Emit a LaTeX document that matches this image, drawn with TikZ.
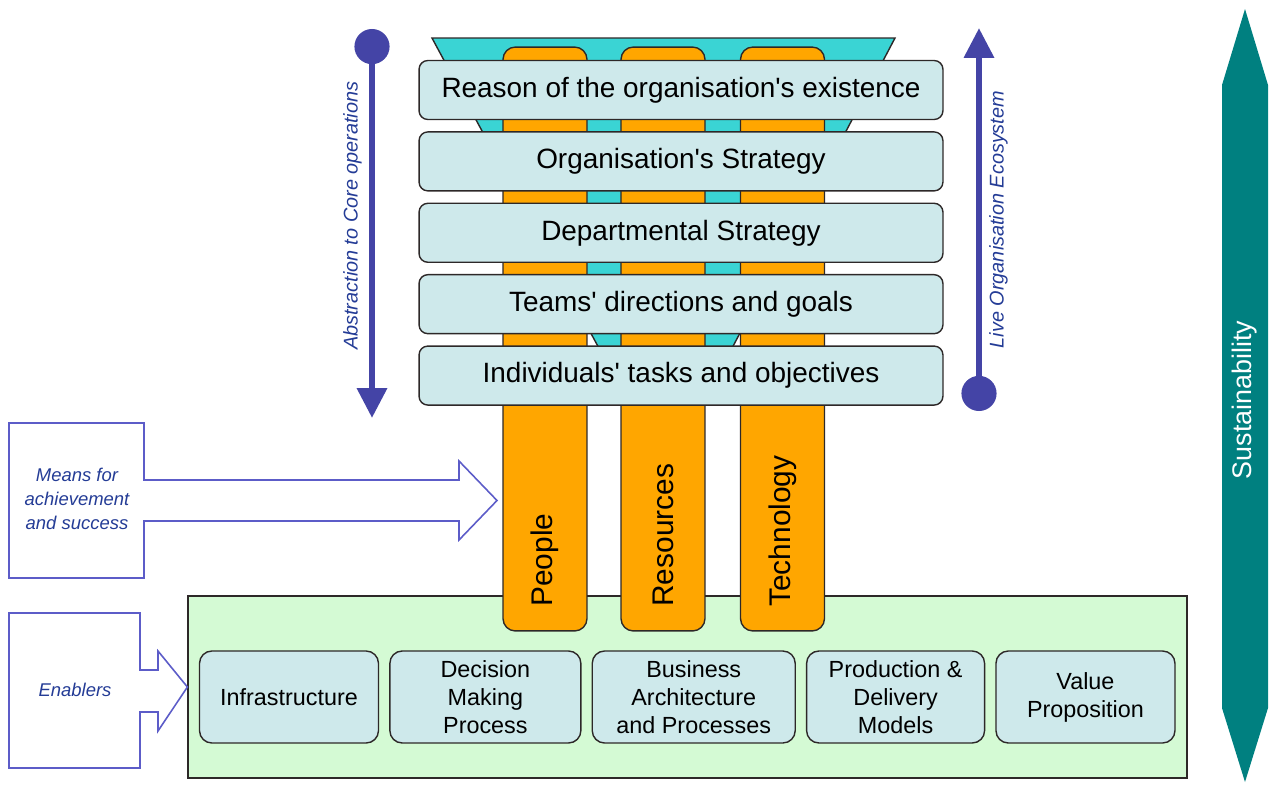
\documentclass[tikz,border=0pt]{standalone}
\usepackage{fontspec}
\setmainfont{Liberation Sans}
\usetikzlibrary{positioning,arrows.meta}

\definecolor{layerfill}{RGB}{206,233,235}
\definecolor{funnelcyan}{RGB}{58,212,212}
\definecolor{pillarorange}{RGB}{255,166,0}
\definecolor{basegreen}{RGB}{212,250,212}
\definecolor{sustteal}{RGB}{0,128,128}
\definecolor{flowblue}{RGB}{68,68,166}
\definecolor{calloutblue}{RGB}{92,92,200}
\definecolor{labelblue}{RGB}{36,60,150}
\definecolor{edgegray}{RGB}{45,40,40}

\tikzset{
  layer/.style={draw=edgegray, line width=0.8pt, fill=layerfill, rounded corners=5pt,
    minimum width=10.48cm, minimum height=1.18cm, inner sep=0pt,
    font=\fontsize{15.9}{19}\selectfont},
  enabler/.style={draw=edgegray, line width=0.8pt, fill=layerfill, rounded corners=7pt,
    minimum height=1.84cm, inner sep=0pt, align=center,
    font=\fontsize{13.3}{15.9}\selectfont},
  pillar/.style={draw=edgegray, line width=0.8pt, fill=pillarorange, rounded corners=7pt,
    minimum width=1.68cm, minimum height=11.68cm, inner sep=0pt},
  pillarlabel/.style={rotate=90, anchor=west, inner sep=0pt, font=\fontsize{17}{20}\selectfont},
  callout/.style={draw=calloutblue, line width=0.9pt, fill=white},
  calloutlabel/.style={align=center, text=labelblue, font=\fontsize{10.5}{13.6}\selectfont\itshape},
  flow/.style={draw=flowblue, line width=3.6pt,
    {Circle[length=20pt]}-{Triangle[length=17pt,width=16.5pt]}},
  flowlabel/.style={rotate=90, text=labelblue, inner sep=4pt,
    font=\fontsize{11.3}{13}\selectfont\itshape},
}

\begin{document}
\begin{tikzpicture}[x=0.02cm, y=-0.02cm]
\useasboundingbox (0,0) rectangle (1269,785);

% funnel behind the pillars
\draw[edgegray, line width=0.8pt, fill=funnelcyan] (432,38) -- (895,38) -- (730,352) -- (601,352) -- cycle;

% green base holding the enablers
\node[draw=edgegray, line width=0.8pt, fill=basegreen, minimum width=19.98cm, minimum height=3.64cm, inner sep=0pt] (base) at (687.5,687) {};

% the three pillars
\node[pillar] (people) at (545,339) {};
\node[pillar] (resources) at (663,339) {};
\node[pillar] (technology) at (782.5,339) {};
\node[pillarlabel] (peoplelbl) at (545,607) {People};
\node[pillarlabel] (resourceslbl) at (663,607) {Resources};
\node[pillarlabel] (technologylbl) at (782.5,607) {Technology};

% layers from purpose down to individuals
\node[layer] (reason) at (681,90) {Reason of the organisation\textquotesingle s existence};
\node[layer, below=0.22cm of reason] (orgstrat) {Organisation\textquotesingle s Strategy};
\node[layer, below=0.22cm of orgstrat] (deptstrat) {Departmental Strategy};
\node[layer, below=0.22cm of deptstrat] (teams) {Teams\textquotesingle\ directions and goals};
\node[layer, below=0.22cm of teams] (indiv) {Individuals\textquotesingle\ tasks and objectives};

% enablers row
\node[enabler, minimum width=3.58cm] (infra) at (289,697) {Infrastructure};
\node[enabler, minimum width=3.82cm, right=0.2cm of infra] (decision) {Decision\\Making\\Process};
\node[enabler, minimum width=4.06cm, right=0.2cm of decision] (business) {Business\\Architecture\\and Processes};
\node[enabler, minimum width=3.56cm, right=0.2cm of business] (production) {Production \&\\Delivery\\Models};
\node[enabler, minimum width=3.58cm, right=0.2cm of production] (value) {Value\\Proposition};

% callouts on the left
\draw[callout] (9,423) -- (144,423) -- (144,480) -- (459,480) -- (459,461) -- (497,500.5)
  -- (459,540) -- (459,521) -- (144,521) -- (144,578) -- (9,578) -- cycle;
\node[calloutlabel] (means) at (77,499) {Means for\\achievement\\and success};
\draw[callout] (9,613) -- (140,613) -- (140,670) -- (158,670) -- (158,651) -- (base.west)
  -- (158,731) -- (158,712) -- (140,712) -- (140,768) -- (9,768) -- cycle;
\node[calloutlabel] (enablers) at (75,690) {Enablers};

% flows beside the layers
\coordinate (abstop) at (372,29);
\coordinate (absbot) at (372,418);
\draw[flow] (abstop) -- node[flowlabel, pos=0.48, anchor=south] (abslbl) {Abstraction to Core operations} (absbot);
\coordinate (livebot) at (979,411);
\coordinate (livetop) at (979,28);
\draw[flow] (livebot) -- node[flowlabel, pos=0.5, anchor=north] (livelbl) {Live Organisation Ecosystem} (livetop);

% sustainability band
\fill[sustteal] (1245,9) -- (1268,85) -- (1268,708) -- (1245,782) -- (1222,708) -- (1222,85) -- cycle;
\node[rotate=90, text=white, font=\fontsize{15.3}{18}\selectfont] (sust) at (1245,400) {Sustainability};
\end{tikzpicture}
\end{document}
